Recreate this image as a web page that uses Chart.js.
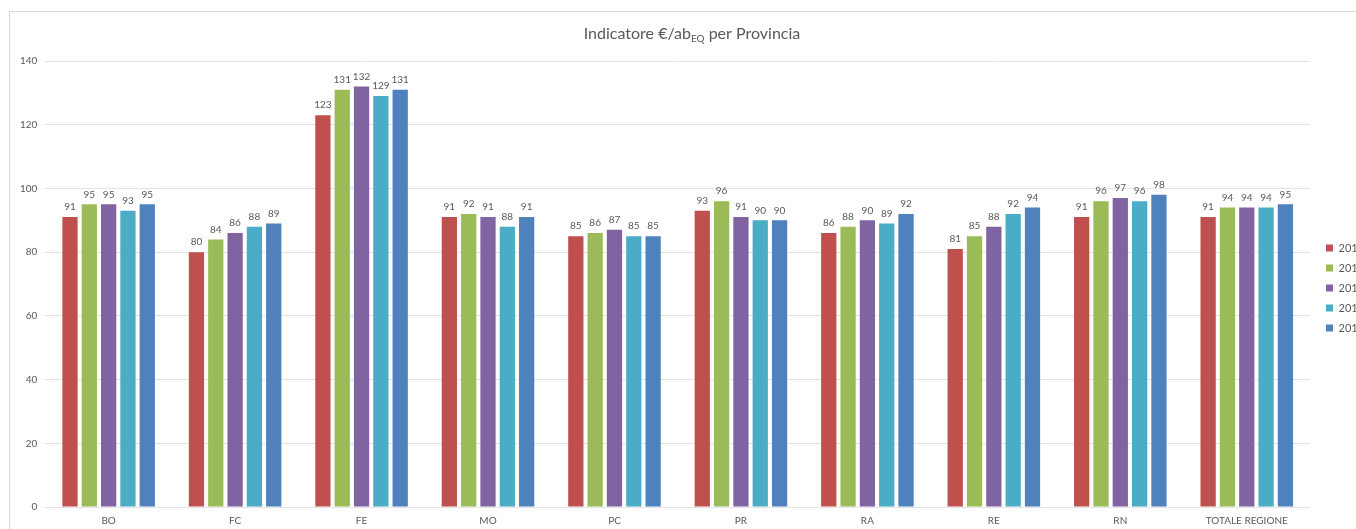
<!DOCTYPE html>
<html>
<head>
<meta charset="utf-8">
<script src="https://cdn.jsdelivr.net/npm/chart.js@4.4.0/dist/chart.umd.min.js"></script>
<style>
  html, body { margin:0; padding:0; background:#fff; overflow:hidden; width:1356px; height:529px; }
  .frame { position:absolute; left:9px; top:11px; width:1400px; height:540px; border-left:1px solid #d9d9d9; border-top:1px solid #d9d9d9; }
  .frame canvas { position:absolute; left:0; top:0; }
</style>
</head>
<body>
<div class="frame"><canvas id="chart" width="1380" height="526"></canvas></div>
<script>
/* Indicatore €/ab EQ per provincia, barre raggruppate per anno */

const categories = ['BO','FC','FE','MO','PC','PR','RA','RE','RN','TOTALE REGIONE'];
const years      = ['2013','2014','2015','2016','2017'];
const v2013 = [91, 80, 123, 91, 85, 93, 86, 81, 91, 91];
const v2014 = [95, 84, 131, 92, 86, 96, 88, 85, 96, 94];
const v2015 = [95, 86, 132, 91, 87, 91, 90, 88, 97, 94];
const v2016 = [93, 88, 129, 88, 85, 90, 89, 92, 96, 94];
const v2017 = [95, 89, 131, 91, 85, 90, 92, 94, 98, 95];
const yTicks = [0, 20, 40, 60, 80, 100, 120, 140];

const COLORS = ['#c0504d','#9bbb59','#8064a2','#4bacc6','#4f81bd'];
const TEXT   = '#595959';
const FONT   = 'Lato, "Noto Sans", sans-serif';

const series = [v2013, v2014, v2015, v2016, v2017];

// titolo con pedice "EQ"
const titlePlugin = {
  id: 'titleSub',
  afterDraw(chart) {
    const ctx = chart.ctx;
    const cx = 682, cy = 22;
    const big = '16px ' + FONT, small = '10px ' + FONT;
    const p1 = 'Indicatore €/ab', sub = 'EQ', p2 = ' per Provincia';
    ctx.save();
    ctx.font = big;   const w1 = ctx.measureText(p1).width, w3 = ctx.measureText(p2).width;
    ctx.font = small; const w2 = ctx.measureText(sub).width;
    let x = cx - (w1 + w2 + w3) / 2;
    ctx.fillStyle = TEXT;
    ctx.textBaseline = 'middle';
    ctx.textAlign = 'left';
    ctx.font = big;   ctx.fillText(p1, x, cy); x += w1;
    ctx.font = small; ctx.fillText(sub, x, cy + 5); x += w2;
    ctx.font = big;   ctx.fillText(p2, x, cy);
    ctx.restore();
  }
};

// etichette valore sopra le barre
const valueLabels = {
  id: 'valueLabels',
  afterDatasetsDraw(chart) {
    const ctx = chart.ctx;
    ctx.save();
    ctx.font = '10px ' + FONT;
    ctx.fillStyle = TEXT;
    ctx.textAlign = 'center';
    ctx.textBaseline = 'bottom';
    chart.data.datasets.forEach((ds, di) => {
      chart.getDatasetMeta(di).data.forEach((bar, i) => {
        ctx.fillText(String(ds.data[i]), bar.x, bar.y - 5);
      });
    });
    ctx.restore();
  }
};

// sposta la legenda un po' più a destra dell'area grafico
const legendGap = {
  id: 'legendGap',
  afterLayout(chart) {
    const lg = chart.legend;
    if (!lg) return;
    lg.left += 7; lg.right += 7;
    lg.top -= 10; lg.bottom -= 10;
  }
};

new Chart(document.getElementById('chart').getContext('2d'), {
  type: 'bar',
  data: {
    labels: categories,
    datasets: series.map((d, i) => ({
      label: years[i],
      data: d,
      backgroundColor: COLORS[i],
      borderWidth: 0,
      categoryPercentage: 0.764,
      barPercentage: 0.79,
    }))
  },
  options: {
    responsive: false,
    animation: false,
    devicePixelRatio: 1,
    layout: { padding: { top: 49, left: 2, right: 40, bottom: 3 } },
    plugins: {
      title: { display: false },
      tooltip: { enabled: false },
      legend: {
        position: 'right',
        maxWidth: 40,
        labels: { boxWidth: 7, boxHeight: 7, padding: 9, color: TEXT, font: { family: FONT, size: 11 } }
      }
    },
    scales: {
      x: {
        grid: { display: false, drawTicks: false },
        border: { display: false },
        ticks: { color: TEXT, font: { family: FONT, size: 10 }, padding: 8, maxRotation: 0, autoSkip: false }
      },
      y: {
        min: 0, max: 140,
        afterBuildTicks: axis => { axis.ticks = yTicks.map(v => ({ value: v })); },
        grid: { color: '#e3e3e3', lineWidth: 1, drawTicks: false },
        border: { display: false },
        ticks: { color: TEXT, font: { family: FONT, size: 10 }, padding: 8 }
      }
    }
  },
  plugins: [titlePlugin, valueLabels, legendGap]
});
</script>
</body>
</html>
